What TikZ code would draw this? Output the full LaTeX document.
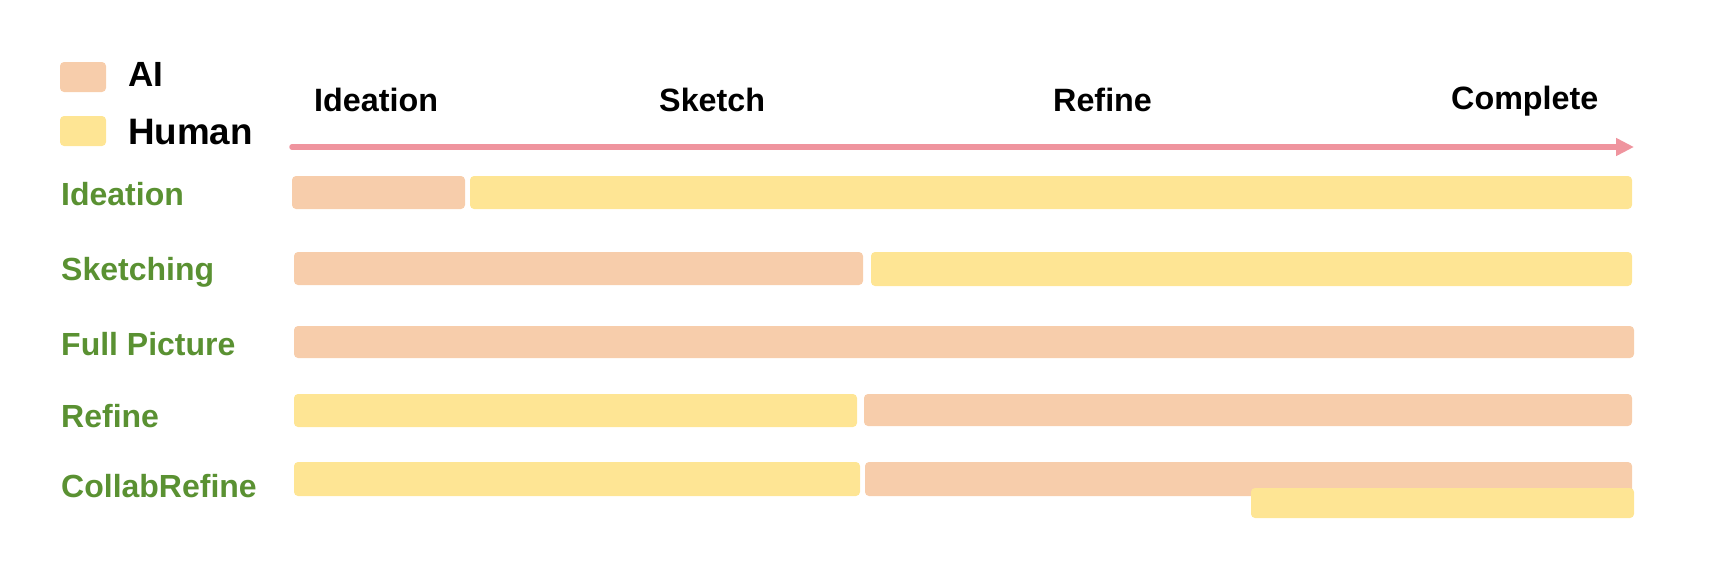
\documentclass[tikz,border=0pt]{standalone}
\usepackage{fontspec}
\setmainfont{Liberation Sans}
\usetikzlibrary{arrows.meta}
\definecolor{aic}{HTML}{F7CDAB}
\definecolor{huc}{HTML}{FEE594}
\definecolor{grn}{HTML}{5A9132}
\definecolor{arr}{HTML}{EF949E}
\tikzset{
  aibar/.style={fill=aic, draw=none, rounded corners=4pt},
  hubar/.style={fill=huc, draw=none, rounded corners=4pt},
  rowlab/.style={anchor=base west, inner sep=0pt, text=grn, font=\bfseries\fontsize{32}{36}\selectfont},
  phase/.style={anchor=base west, inner sep=0pt, text=black, font=\bfseries\fontsize{32.3}{38}\selectfont},
}
\begin{document}
\begin{tikzpicture}[x=1pt,y=-1pt]
\useasboundingbox (0,0) rectangle (1728,576);
% legend
\path[aibar] (60,62) rectangle (106,92);
\path[hubar] (60,116) rectangle (106,146);
\node[anchor=base west, inner sep=0pt, font=\bfseries\fontsize{35}{40}\selectfont] (legai) at (128,86.5) {AI};
\node[anchor=base west, inner sep=0pt, font=\bfseries\fontsize{36.8}{42}\selectfont] (leghu) at (128,144) {Human};
% phases
\node[phase] (p1) at (314,111.5) {Ideation};
\node[phase] (p2) at (659,111.5) {Sketch};
\node[phase] (p3) at (1053,111.5) {Refine};
\node[phase] (p4) at (1451,109.5) {Complete};
% arrow
\coordinate (as) at (292,147);
\coordinate (ae) at (1634,147);
\draw[arr, line width=5.5pt, line cap=round, -{Triangle[length=18pt,width=17pt]}] (as) -- (ae);
% row labels
\node[rowlab] (l1) at (61,205.5) {Ideation};
\node[rowlab] (l2) at (61,280.5) {Sketching};
\node[rowlab] (l3) at (61,355.5) {Full Picture};
\node[rowlab] (l4) at (61,427) {Refine};
\node[rowlab] (l5) at (61,497) {CollabRefine};
% row 1
\path[aibar] (292,176) rectangle (465,209);
\path[hubar] (470,176) rectangle (1632,209);
% row 2
\path[aibar] (294,252) rectangle (863,285);
\path[hubar] (871,252) rectangle (1632,286);
% row 3
\path[aibar] (294,326) rectangle (1634,358);
% row 4
\path[hubar] (294,394) rectangle (857,427);
\path[aibar] (864,394) rectangle (1632,426);
% row 5
\path[hubar] (294,462) rectangle (860,496);
\path[aibar] (865,462) rectangle (1632,496);
\path[hubar] (1251,488) rectangle (1634,518);
\end{tikzpicture}
\end{document}
